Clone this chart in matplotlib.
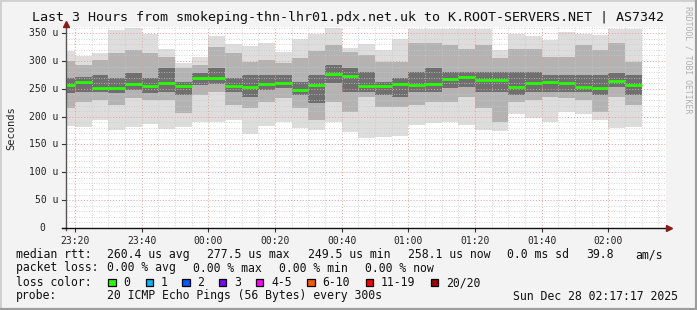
import matplotlib
matplotlib.use("Agg")
import matplotlib.pyplot as plt
from matplotlib.lines import Line2D
from matplotlib.patches import Rectangle
import numpy as np

plt.rcParams["font.family"] = ["DejaVu Sans Mono"]

W, H = 697, 310

# bar start times, minutes after 23:00 (5 minute steps)
bar_start = [15, 20, 25, 30, 35, 40, 45, 50, 55, 60, 65, 70, 75, 80, 85, 90, 95, 100,
             105, 110, 115, 120, 125, 130, 135, 140, 145, 150, 155, 160, 165, 170, 175, 180, 185]
# smoke bands (microseconds): min / lower mid / lower dark / median / upper dark / upper mid / max
rtt_min = [183, 182, 194, 176, 182, 186, 178, 182, 190, 190, 194, 169, 184, 191, 180, 176, 191, 173,
           162, 164, 166, 185, 189, 191, 185, 176, 174, 204, 198, 191, 208, 204, 194, 180, 182]
rtt_lo_mid = [215, 227, 230, 221, 233, 230, 230, 206, 239, 245, 221, 215, 227, 233, 215, 194, 227, 209,
              236, 218, 218, 221, 227, 227, 236, 215, 191, 227, 230, 236, 233, 230, 209, 236, 221]
rtt_lo_dark = [242, 245, 245, 242, 248, 242, 245, 239, 257, 258, 245, 236, 248, 251, 239, 225, 260, 245,
               245, 239, 236, 245, 245, 251, 254, 245, 245, 239, 245, 245, 245, 245, 239, 254, 239]
rtt_median = [257, 262, 252, 252, 259, 255, 260, 255, 270, 270, 255, 253, 259, 260, 248, 257, 276, 273,
              255, 255, 259, 257, 259, 267, 271, 265, 265, 253, 260, 263, 260, 253, 252, 264, 257]
rtt_hi_dark = [269, 272, 275, 269, 278, 269, 287, 263, 278, 287, 269, 275, 275, 275, 263, 275, 293, 287,
               281, 263, 269, 281, 287, 281, 281, 281, 281, 281, 281, 275, 275, 275, 275, 278, 275]
rtt_hi_mid = [300, 293, 302, 314, 320, 314, 308, 287, 293, 325, 314, 299, 302, 296, 305, 317, 328, 316,
              311, 299, 299, 332, 332, 328, 322, 328, 305, 322, 322, 308, 308, 328, 320, 332, 299]
rtt_max = [318, 309, 314, 355, 360, 349, 321, 297, 308, 345, 330, 327, 333, 316, 339, 348, 360, 324,
           330, 320, 339, 358, 358, 358, 358, 358, 320, 349, 345, 337, 352, 349, 346, 358, 358]

x_ticks = [20, 40, 60, 80, 100, 120, 140, 160, 180]
x_labels = ["23:20", "23:40", "00:00", "00:20", "00:40", "01:00", "01:20", "01:40", "02:00"]
y_ticks = [50, 100, 150, 200, 250, 300, 350]
y_labels = ["50 u", "100 u", "150 u", "200 u", "250 u", "300 u", "350 u"]

loss_labels = ["0", "1", "2", "3", "4-5", "6-10", "11-19", "20/20"]
loss_colors = ["#26ff00", "#00b8ff", "#0059ff", "#7e00ff", "#ff00ff", "#ff5500", "#ff0000", "#a10000"]


def fx(px):
    return px / W


def fy(py):
    return 1 - py / H


fig = plt.figure(figsize=(W / 100, H / 100), dpi=100, facecolor="#f3f3f3")

# frame around the picture
fig.add_artist(Line2D([0, 0], [0, 1], transform=fig.transFigure, color="#cfcfcf", lw=2))
fig.add_artist(Line2D([0, 1], [1, 1], transform=fig.transFigure, color="#cfcfcf", lw=2))
fig.add_artist(Line2D([1, 1], [0, 1], transform=fig.transFigure, color="#9c9c9c", lw=3))
fig.add_artist(Line2D([0, 1], [0, 0], transform=fig.transFigure, color="#9c9c9c", lw=3))

x0, x1, ytop, ybot = 66, 666, 27, 228
ax = fig.add_axes([fx(x0), fy(ybot), (x1 - x0) / W, (ybot - ytop) / H])
ax.set_facecolor("white")
ax.set_xlim(17.283, 197.283)
ax.set_ylim(0, 361)

starts = np.array(bar_start)
lo = np.array(rtt_min)
hi = np.array(rtt_max)
ax.bar(starts, hi - lo, bottom=lo, width=5, align="edge", color="#dddddd", lw=0, zorder=1)
ax.bar(starts, np.array(rtt_hi_mid) - np.array(rtt_lo_mid), bottom=rtt_lo_mid, width=5,
       align="edge", color="#b3b3b3", lw=0, zorder=1)
ax.bar(starts, np.array(rtt_hi_dark) - np.array(rtt_lo_dark), bottom=rtt_lo_dark, width=5,
       align="edge", color="#6f6f6f", lw=0, zorder=1)
ax.hlines(rtt_median, starts, starts + 5, color="#26ff00", lw=2, zorder=4)

# grid
for v in range(10, 361, 10):
    if v % 50:
        ax.axhline(v, color="#c8c8c8", lw=0.6, ls=(0, (1, 2)), zorder=2)
    else:
        ax.axhline(v, color="#f29a9a", lw=0.7, ls=(0, (1, 2)), zorder=2)
for m in range(20, 198, 5):
    if m % 20:
        ax.axvline(m, color="#c8c8c8", lw=0.6, ls=(0, (1, 2)), zorder=2)
    else:
        ax.axvline(m, color="#f29a9a", lw=0.7, ls=(0, (1, 2)), zorder=2)

for s in ax.spines.values():
    s.set_visible(False)
ax.set_xticks(x_ticks)
ax.set_xticklabels(x_labels)
ax.set_yticks([])
ax.tick_params(axis="x", length=3, width=0.8, color="#333333", labelsize=7, pad=3)
for t in ax.get_xticklabels():
    t.set_color("#222222")

for v, lab in zip(y_ticks, y_labels):
    ax.text(-0.012, v, lab, transform=ax.get_yaxis_transform(), ha="right", va="center",
            fontsize=7, color="#222222")
ax.text(-0.035, 0, "0", transform=ax.get_yaxis_transform(), ha="right", va="center",
        fontsize=7, color="#222222")
for v in y_ticks + [0]:
    ax.plot([-0.006, 0], [v, v], transform=ax.get_yaxis_transform(), color="#333333", lw=0.8,
            clip_on=False)

# axis lines with arrows
fig.add_artist(Line2D([fx(66), fx(66)], [fy(230), fy(24)], color="#555555", lw=1))
fig.add_artist(Line2D([fx(62), fx(668)], [fy(228), fy(228)], color="#111111", lw=1))
fig.add_artist(Line2D([fx(66)], [fy(24)], marker="^", ms=4, color="#8b1a1a"))
fig.add_artist(Line2D([fx(669)], [fy(228)], marker=">", ms=4, color="#8b1a1a"))

fig.text(fx(347.5), fy(18), "Last 3 Hours from smokeping-thn-lhr01.pdx.net.uk to K.ROOT-SERVERS.NET | AS7342",
         ha="center", va="center", fontsize=9.6, color="#111111")
fig.text(fx(11), fy(128), "Seconds", rotation=90, ha="center", va="center", fontsize=7.5,
         color="#222222")
fig.text(fx(688), fy(60), "RRDTOOL / TOBI OETIKER", rotation=270, ha="center", va="center",
         fontsize=5.9, color="#b0b0b0")

fs = 8.3
tc = "#111111"
y1, y2, y3, y4 = 254.5, 268, 282.5, 296
fig.text(fx(16), fy(y1), "median rtt:", fontsize=fs, color=tc, va="center")
for xp, s in [(107.3, "260.4 us avg"), (207.3, "277.5 us max"), (307.5, "249.5 us min"),
              (407.7, "258.1 us now"), (506.7, "0.0 ms sd"), (586, "39.8"), (635, "am/s")]:
    fig.text(fx(xp), fy(y1), s, fontsize=fs, color=tc, va="center")
fig.text(fx(16), fy(y2), "packet loss:", fontsize=fs, color=tc, va="center")
for xp, s in [(107.3, "0.00 % avg"), (193.3, "0.00 % max"), (279.3, "0.00 % min"), (365, "0.00 % now")]:
    fig.text(fx(xp), fy(y2), s, fontsize=fs, color=tc, va="center")
fig.text(fx(16), fy(y3), "loss color:", fontsize=fs, color=tc, va="center")
box_x = [108.3, 145.7, 182.3, 219, 256, 307.3, 365.7, 430.7]
for bx, lab, col in zip(box_x, loss_labels, loss_colors):
    fig.add_artist(Rectangle((fx(bx), fy(y3 + 3.7)), 7.4 / W, 7.4 / H, transform=fig.transFigure,
                             facecolor=col, edgecolor="black", lw=0.9))
    fig.text(fx(bx + 15.3), fy(y3), lab, fontsize=fs, color=tc, va="center")
fig.text(fx(16), fy(y4), "probe:", fontsize=fs, color=tc, va="center")
fig.text(fx(107.3), fy(y4), "20 ICMP Echo Pings (56 Bytes) every 300s", fontsize=fs, color=tc, va="center")
fig.text(fx(513.3), fy(y4), "Sun Dec 28 02:17:17 2025", fontsize=fs, color=tc, va="center")

fig.savefig("out.png", dpi=100, facecolor=fig.get_facecolor())
